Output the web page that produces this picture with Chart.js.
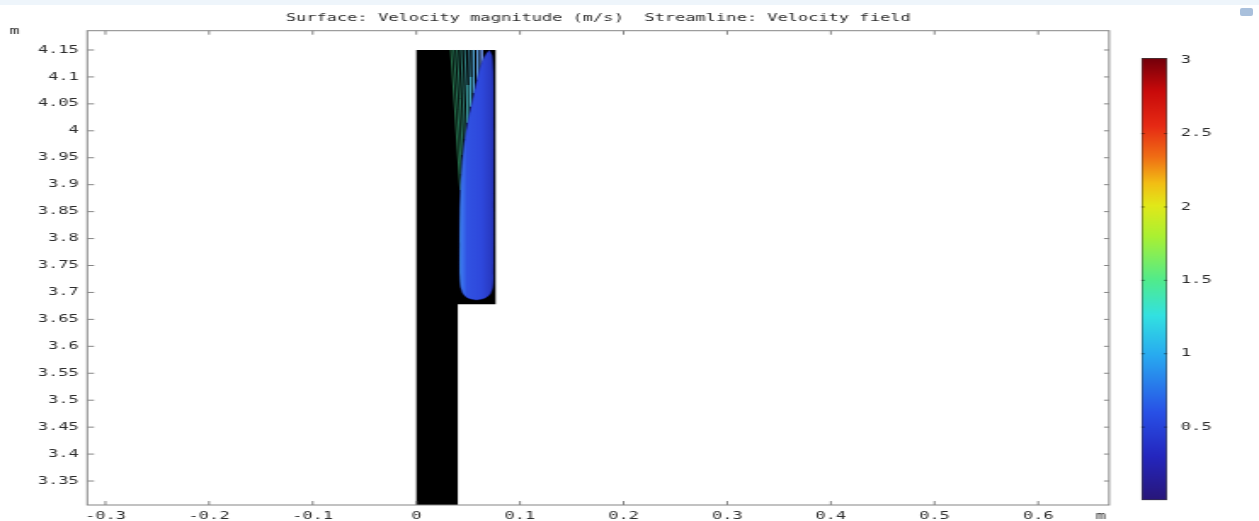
<!DOCTYPE html>
<html><head><meta charset="utf-8">
<script src="https://cdn.jsdelivr.net/npm/chart.js@4.4.1/dist/chart.umd.min.js"></script>
<style>
html,body{margin:0;padding:0;background:#fff;overflow:hidden;}
#wrap{position:relative;width:1259px;height:521px;background:#fff;}
#topband{position:absolute;left:0;top:0;width:1259px;height:5px;background:#eef5fb;}
#icon{position:absolute;left:1240px;top:8px;width:13px;height:8px;background:#a9c0dc;border-radius:2px;}
canvas{position:absolute;left:0;top:0;}
</style></head><body>
<div id="wrap">
<div id="topband"></div>
<div id="icon"></div>
<canvas id="main" width="740" height="521" style="width:1259px;height:521px"></canvas>
<canvas id="cbar" width="740" height="521" style="width:1259px;height:521px"></canvas>
</div>
<script>
// ---------- data ----------
const titleText = 'Surface: Velocity magnitude (m/s)  Streamline: Velocity field';
const unitLabel = 'm';
const xTicks = [-0.3, -0.2, -0.1, 0, 0.1, 0.2, 0.3, 0.4, 0.5, 0.6];
const yTicks = [3.35, 3.4, 3.45, 3.5, 3.55, 3.6, 3.65, 3.7, 3.75, 3.8, 3.85, 3.9, 3.95, 4, 4.05, 4.1, 4.15];
const xRange = [-0.3175, 0.6685];
const yRange = [3.3055, 4.1858];

// solid (black) region outline
const solidX = [0, 0.04, 0.04, 0.0765, 0.0765, 0, 0];
const solidY = [3.25, 3.25, 3.678, 3.678, 4.15, 4.15, 3.25];

// fluid (velocity surface) outline
const fluidX = [0.0705, 0.0730, 0.0742, 0.0745, 0.0745, 0.0744, 0.0738, 0.0712, 0.0660, 0.0580, 0.0500, 0.0452, 0.0427, 0.0418, 0.0417, 0.0419, 0.0427, 0.0442, 0.0462, 0.0490, 0.0522, 0.0548, 0.0580, 0.0615, 0.0650, 0.0682, 0.0705];
const fluidY = [4.149, 4.140, 4.110, 4.000, 3.850, 3.730, 3.710, 3.697, 3.689, 3.686, 3.689, 3.697, 3.710, 3.730, 3.790, 3.850, 3.895, 3.940, 3.975, 4.010, 4.040, 4.062, 4.090, 4.117, 4.135, 4.145, 4.149];

// streamlines
const streamX = [
  [0.0334, 0.0380, 0.0425],
  [0.0362, 0.0400, 0.0435],
  [0.0394, 0.0422, 0.0450],
  [0.0432, 0.0452, 0.0470],
  [0.0468, 0.0482, 0.0495],
  [0.0510, 0.0517, 0.0525],
  [0.0548, 0.0552, 0.0556],
  [0.0587, 0.0590, 0.0594],
  [0.0629, 0.0631, 0.0634]
];
const streamY = [
  [4.15, 4.02, 3.89],
  [4.15, 4.04, 3.92],
  [4.15, 4.06, 3.955],
  [4.15, 4.07, 3.985],
  [4.15, 4.085, 4.015],
  [4.15, 4.10, 4.045],
  [4.15, 4.11, 4.07],
  [4.15, 4.125, 4.095],
  [4.15, 4.135, 4.115]
];
const streamColors = ['#2e8a5c', '#2f8e68', '#339476', '#389a8c', '#3ea2a6', '#46a6c0', '#52a6d6', '#62a2e4', '#7098ee'];

// colour bar
const cbTicks = [0.5, 1, 1.5, 2, 2.5, 3];
const cbRange = [0, 3.015];
const cbValue = [0.003, 3.015];

// ---------- helpers ----------
const toPts = (xs, ys) => xs.map((v, i) => ({x: v, y: ys[i]}));
const FONT = {family: "'DejaVu Sans Mono', monospace", size: 10};
const TXT = '#2c2c2c';

const fluidFill = (c) => {
  const chart = c.chart;
  const {chartArea, scales} = chart;
  if (!chartArea) return '#3050e0';
  const x0 = scales.x.getPixelForValue(Math.min(...fluidX));
  const x1 = scales.x.getPixelForValue(Math.max(...fluidX));
  const g = chart.ctx.createLinearGradient(x0, 0, x1, 0);
  g.addColorStop(0, '#44a4f8');
  g.addColorStop(0.07, '#3a74ee');
  g.addColorStop(0.22, '#3152e2');
  g.addColorStop(0.65, '#2e48dc');
  g.addColorStop(1, '#2736bc');
  return g;
};

const framePlugin = {
  id: 'frame',
  afterDatasetsDraw(chart) {
    const {ctx, chartArea: a, scales: {x, y}} = chart;
    ctx.save();
    ctx.strokeStyle = '#858585';
    ctx.lineWidth = 1;
    ctx.strokeRect(a.left, a.top, a.right - a.left, a.bottom - a.top);
    ctx.beginPath();
    xTicks.forEach(v => {
      const p = x.getPixelForValue(v);
      ctx.moveTo(p, a.top); ctx.lineTo(p, a.top + 4);
      ctx.moveTo(p, a.bottom); ctx.lineTo(p, a.bottom - 4);
    });
    yTicks.forEach(v => {
      const p = y.getPixelForValue(v);
      ctx.moveTo(a.left, p); ctx.lineTo(a.left + 4, p);
      ctx.moveTo(a.right, p); ctx.lineTo(a.right - 3, p);
    });
    ctx.stroke();
    ctx.fillStyle = TXT;
    ctx.font = "10px 'DejaVu Sans Mono', monospace";
    ctx.textBaseline = 'middle';
    ctx.textAlign = 'center';
    ctx.fillText(unitLabel, 8.5, 31);
    ctx.fillText(unitLabel, a.right - 5, 516);
    ctx.restore();
  }
};

const datasets = [
  {data: toPts(solidX, solidY), showLine: true, fill: 'shape', backgroundColor: '#000', borderColor: '#000', borderWidth: 0, pointRadius: 0, tension: 0, order: 3}
];
streamX.forEach((xs, i) => {
  datasets.push({data: toPts(xs, streamY[i]), showLine: true, fill: false, borderColor: streamColors[i], borderWidth: 0.8, pointRadius: 0, tension: 0, order: 2});
});
datasets.push({data: toPts(fluidX, fluidY), showLine: true, fill: 'shape', backgroundColor: fluidFill, borderColor: 'rgba(30,35,150,0.7)', borderWidth: 0.6, pointRadius: 0, tension: 0.25, order: 1});

new Chart(document.getElementById('main'), {
  type: 'scatter',
  data: {datasets},
  options: {
    responsive: false, animation: false, devicePixelRatio: 1,
    events: [],
    layout: {padding: {left: 0, right: 88.1, top: 0, bottom: 0}},
    plugins: {
      legend: {display: false}, tooltip: {enabled: false},
      title: {display: true, text: titleText, fullSize: false, color: TXT,
              font: {family: FONT.family, size: 10, weight: 'normal', lineHeight: 1.2},
              padding: {top: 12.5, bottom: 6.2}}
    },
    scales: {
      x: {type: 'linear', min: xRange[0], max: xRange[1],
          afterBuildTicks: s => { s.ticks = xTicks.map(v => ({value: v})); },
          afterFit: s => { s.height = 16; },
          grid: {display: false, drawTicks: false}, border: {display: false},
          ticks: {font: FONT, color: TXT, padding: 5, maxRotation: 0, autoSkip: false,
                  callback: v => String(+Number(v).toFixed(2))}},
      y: {type: 'linear', min: yRange[0], max: yRange[1],
          afterBuildTicks: s => { s.ticks = yTicks.map(v => ({value: v})); },
          afterFit: s => { s.width = 51.3; },
          grid: {display: false, drawTicks: false}, border: {display: false},
          ticks: {font: FONT, color: TXT, padding: 5, autoSkip: false,
                  callback: v => String(+Number(v).toFixed(2))}}
    }
  },
  plugins: [framePlugin]
});

// ---------- colour bar ----------
const cbFill = (c) => {
  const chart = c.chart;
  const {chartArea, scales} = chart;
  if (!chartArea) return '#3050e0';
  const y0 = scales.y.getPixelForValue(0), y1 = scales.y.getPixelForValue(3);
  const g = chart.ctx.createLinearGradient(0, y0, 0, y1);
  const stops = [
    [0, 'rgb(40,22,120)'], [0.1, 'rgb(36,38,190)'], [0.2, 'rgb(40,80,230)'],
    [0.33, 'rgb(40,170,240)'], [0.42, 'rgb(50,225,225)'], [0.5, 'rgb(80,235,140)'],
    [0.6, 'rgb(170,240,50)'], [0.67, 'rgb(225,232,25)'], [0.72, 'rgb(242,190,20)'],
    [0.78, 'rgb(240,110,20)'], [0.85, 'rgb(230,42,20)'], [0.93, 'rgb(200,10,10)'],
    [1, 'rgb(120,0,10)']
  ];
  stops.forEach(s => g.addColorStop(s[0], s[1]));
  return g;
};

const cbTickPlugin = {
  id: 'cbticks',
  afterDatasetsDraw(chart) {
    const {ctx, chartArea: a, scales: {y}} = chart;
    ctx.save();
    ctx.strokeStyle = 'rgba(0,0,0,0.45)';
    ctx.lineWidth = 1;
    ctx.beginPath();
    cbTicks.forEach(v => {
      if (v >= 3) return;
      const p = y.getPixelForValue(v);
      ctx.moveTo(a.left, p); ctx.lineTo(a.left + 2, p);
      ctx.moveTo(a.right, p); ctx.lineTo(a.right - 2, p);
    });
    ctx.stroke();
    ctx.restore();
  }
};

new Chart(document.getElementById('cbar'), {
  type: 'bar',
  data: {labels: [''], datasets: [{data: [cbValue], backgroundColor: cbFill, borderColor: '#3a3a3a', borderWidth: 1, borderSkipped: false, categoryPercentage: 1, barPercentage: 1}]},
  options: {
    responsive: false, animation: false, devicePixelRatio: 1,
    events: [],
    layout: {padding: {left: 670.8, top: 58, bottom: 20.5, right: 0}},
    plugins: {legend: {display: false}, tooltip: {enabled: false}},
    scales: {
      x: {display: false},
      y: {position: 'right', min: cbRange[0], max: cbRange[1],
          afterBuildTicks: s => { s.ticks = cbTicks.map(v => ({value: v})); },
          afterFit: s => { s.width = 53.9; },
          grid: {display: false, drawTicks: false}, border: {display: false},
          ticks: {font: FONT, color: TXT, padding: 8, autoSkip: false,
                  callback: v => String(v)}}
    }
  },
  plugins: [cbTickPlugin]
});
</script>
</body></html>
